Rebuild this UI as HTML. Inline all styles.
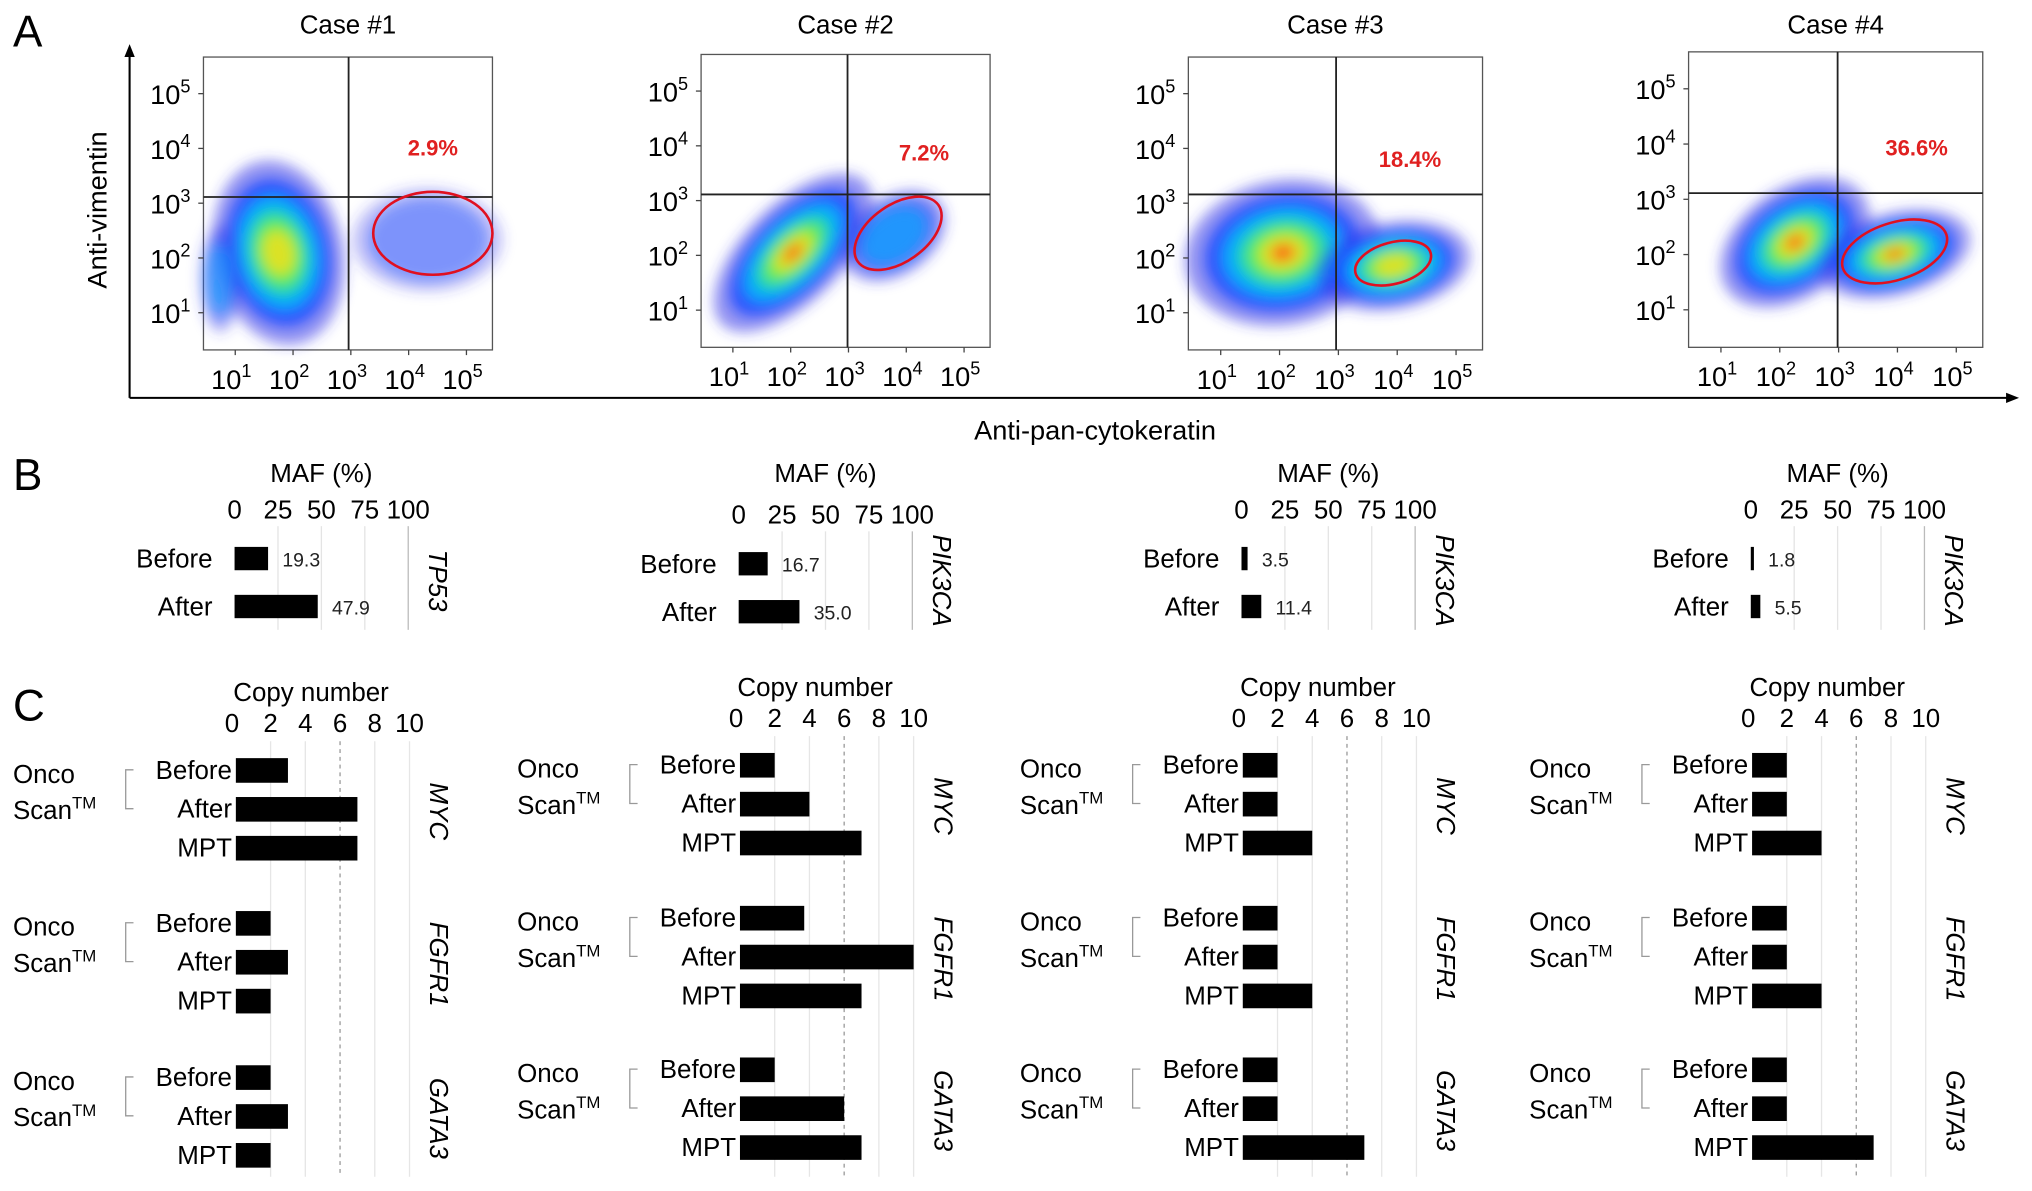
<!DOCTYPE html>
<html><head><meta charset="utf-8"><style>
html,body{margin:0;padding:0;background:#fff}
svg{display:block;font-family:"Liberation Sans",Arial,sans-serif}
</style></head><body>
<svg id="fig" width="2032" height="1191" viewBox="0 0 1568 919" xmlns="http://www.w3.org/2000/svg">
<defs>
<filter id="blur" x="-50%" y="-50%" width="200%" height="200%"><feGaussianBlur stdDeviation="5"/></filter>
</defs>
</svg>
<script>
// ---------- data ----------
const caseNames = ["Case #1","Case #2","Case #3","Case #4"];
const gatePercents = ["2.9%","7.2%","18.4%","36.6%"];
const logTickLabels = ["1","2","3","4","5"];
const mafTicks = [0,25,50,75,100];
const mafBefore = [19.3,16.7,3.5,1.8];
const mafAfter = [47.9,35.0,11.4,5.5];
const mafGenes = ["TP53","PIK3CA","PIK3CA","PIK3CA"];
const cnTicks = [0,2,4,6,8,10];
const cnGenes = ["MYC","FGFR1","GATA3"];
const cnRowLabels = ["Before","After","MPT"];
const cnCase1 = [[3,7,7],[2,3,2],[2,3,2]];
const cnCase2 = [[2,4,7],[3.7,10,7],[2,6,7]];
const cnCase3 = [[2,2,4],[2,2,4],[2,2,7]];
const cnCase4 = [[2,2,4],[2,2,4],[2,2,7]];
const cnAll = [cnCase1,cnCase2,cnCase3,cnCase4];

// ---------- layout ----------
const svg = document.getElementById('fig');
const NS = "http://www.w3.org/2000/svg";
function mk(tag, attrs, parent){const e=document.createElementNS(NS,tag);for(const k in attrs)e.setAttribute(k,attrs[k]);(parent||svg).appendChild(e);return e;}
function txt(s, attrs, parent){const e=mk('text',attrs,parent);e.textContent=s;return e;}

let t;
t=txt("A",{x:10,y:36,'font-size':34});


t=txt("B",{x:10,y:378,'font-size':34});


t=txt("C",{x:10,y:556,'font-size':34});



let ax=mk('path',{d:"M100,307 L100,42 M1552,307 L100,307",stroke:'#000','stroke-width':1.6,fill:'none'});


let ah=mk('path',{d:"M96,44 L100,34 L104,44 Z M1548,303 L1558,307 L1548,311 Z",fill:'#000'});


t=txt("Anti-vimentin",{x:0,y:0,'font-size':21,'text-anchor':'middle',transform:'translate(82,162) rotate(-90)'});


t=txt("Anti-pan-cytokeratin",{x:845,y:339,'font-size':21,'text-anchor':'middle'});



const boxes=[[157,44,380,270],[541,42,764,268],[917,44,1144,270],[1303,40,1530,268]];
const quadV=[269,654,1031,1418];
const quadH=[152,150,150,149];
const ellipses=[[334,180,46,32,0],[693,180,38,22,-35],[1075,203,30,16,-15],[1462,194,42,22,-18]];
const pctPos=[[334,120],[713,124],[1088,129],[1479,120]];
// cx,cy,rx,ry,rot,layers,outerOpacity
const clouds=[
 [[215,195,50,72,-12,6,0.55],[330,185,58,40,0,2,0.3],[170,215,16,42,0,3,0.35]],
 [[612,195,78,38,-45,7,0.55],[690,182,44,30,-35,3,0.5]],
 [[990,195,76,56,-10,7,0.55],[1075,205,60,34,-10,6,0.5]],
 [[1385,187,64,42,-35,7,0.55],[1462,196,60,32,-15,7,0.5]]
];
const layerCols=['#3a3ae8','#1a4cff','#00b4ff','#20e0a0','#70f040','#f0e020','#ff5010'];
const layerScale=[1,.8,.62,.48,.36,.24,.12];

boxes.forEach((b,i)=>{
  const g=mk('g',{});
  
  
  const tt=txt(caseNames[i],{x:(b[0]+b[2])/2,y:26,'font-size':20,'text-anchor':'middle'},g);
  
  
  const r=mk('rect',{x:b[0],y:b[1],width:b[2]-b[0],height:b[3]-b[1],fill:'#fff',stroke:'#555','stroke-width':1},g);
  
  
  const cg=mk('g',{filter:'url(#blur)'},g);
  clouds[i].forEach((c)=>{
    for(let k=0;k<c[5];k++){
      const e=mk('ellipse',{cx:c[0],cy:c[1],rx:c[2]*layerScale[k],ry:c[3]*layerScale[k],fill:layerCols[k],opacity:k===0?c[6]:(c[5]<=3?c[6]+0.1:0.85),transform:`rotate(${c[4]} ${c[0]} ${c[1]})`},cg);
      
      
    }
  });
  const q=mk('path',{d:`M${quadV[i]},${b[1]} L${quadV[i]},${b[3]} M${b[0]},${quadH[i]} L${b[2]},${quadH[i]}`,stroke:'#222','stroke-width':1.4},g);
  
  
  const el=ellipses[i];
  const ge=mk('ellipse',{cx:el[0],cy:el[1],rx:el[2],ry:el[3],fill:'none',stroke:'#e01020','stroke-width':2,transform:`rotate(${el[4]} ${el[0]} ${el[1]})`},g);
  
  
  const pt=txt(gatePercents[i],{x:pctPos[i][0],y:pctPos[i][1],'font-size':17,'font-weight':'bold',fill:'#e02020','text-anchor':'middle'},g);
  
  
  const w=b[2]-b[0], h=b[3]-b[1];
  logTickLabels.forEach((e,k)=>{
    const y=b[1]+h*(0.125+ (4-k)*0.187);
    const yl=mk('text',{x:b[0]-10,y:y+8,'font-size':21,'text-anchor':'end'},g);
    yl.textContent='10';
    const sp=mk('tspan',{dy:-9,'font-size':14},yl);sp.textContent=e;
    
    
    const ytk=mk('line',{x1:b[0]-4,x2:b[0],y1:y,y2:y,stroke:'#444'},g);
    
    
    const x=b[0]+w*(0.11+k*0.2);
    const xl=mk('text',{x:x-3,y:b[3]+30,'font-size':21,'text-anchor':'middle'},g);
    xl.textContent='10';
    const sp2=mk('tspan',{dy:-9,'font-size':14},xl);sp2.textContent=e;
    
    
    const xtk=mk('line',{x1:x,x2:x,y1:b[3],y2:b[3]+4,stroke:'#444'},g);
    
    
  });
});

// ---------- Panel B ----------
const offX=[0,389,777,1170];
const mafX0=181, mafW=134;
function mafScale(v){return mafW*v/100;}
offX.forEach((o,i)=>{
  const g=mk('g',{transform:`translate(${o},0)`});
  
  
  const yo = i===1?4:0;
  const ti=txt("MAF (%)",{x:mafX0+67,y:372,'font-size':20,'text-anchor':'middle'},g);
  
  
  mafTicks.forEach(v=>{
    const x=mafX0+mafScale(v);
    const tl=txt(String(v),{x:x,y:400+yo,'font-size':20,'text-anchor':'middle'},g);
    
    
    if(v>0){const gl=mk('line',{x1:x,x2:x,y1:406+yo,y2:486,stroke:v===100?'#bbb':'#e4e4e4','stroke-width':1},g);
    
    }
  });
  [[mafBefore[i],"Before",431],[mafAfter[i],"After",468]].forEach(r=>{
    const bar=mk('rect',{x:mafX0,y:r[2]-9+yo,width:mafScale(r[0]),height:18,fill:'#000'},g);
    
    
    const lb=txt(r[1],{x:mafX0-17,y:r[2]+7+yo,'font-size':20,'text-anchor':'end'},g);
    
    
    const vl=txt(r[0].toFixed(1),{x:mafX0+mafScale(r[0])+11,y:r[2]+6+yo,'font-size':15,fill:'#222'},g);
    
    
  });
  const gn=txt(mafGenes[i],{x:0,y:0,'font-size':20,'font-style':'italic','text-anchor':'middle',transform:`translate(${mafX0+150},448) rotate(90)`},g);
  
  
});

// ---------- Panel C ----------
const cnX0=182, cnUnit=13.4;
function cnScale(v){return v*cnUnit;}
const groupY=[[594,712,831],[590,708,825],[590,708,825],[590,708,825]];
offX.forEach((o,i)=>{
  const g=mk('g',{transform:`translate(${o},0)`});
  
  
  const yo=i===0?0:-4;
  const ti=txt("Copy number",{x:cnX0+58,y:541+yo,'font-size':20,'text-anchor':'middle'},g);
  
  
  cnTicks.forEach(v=>{
    const x=cnX0+cnScale(v)-(v===0?3:0);
    const tl=txt(String(v),{x:x,y:565+yo,'font-size':20,'text-anchor':'middle'},g);
    
    
    if(v>0){const gl=mk('line',{x1:cnX0+cnScale(v),x2:cnX0+cnScale(v),y1:572+yo,y2:908,stroke:v===6?'#999':'#e6e6e6','stroke-dasharray':v===6?'3,3':'none','stroke-width':1},g);
    
    }
  });
  cnGenes.forEach((gene,gi)=>{
    const y0=groupY[i][gi];
    cnAll[i][gi].forEach((v,ri)=>{
      const y=y0+ri*30;
      const bar=mk('rect',{x:cnX0,y:y-9,width:cnScale(v),height:19,fill:'#000'},g);
      
      
      const lb=txt(cnRowLabels[ri],{x:cnX0-3,y:y+7,'font-size':20,'text-anchor':'end'},g);
      
      
    });
    const o1=txt("Onco",{x:10,y:y0+10,'font-size':20},g);
    
    
    const o2=txt("Scan",{x:10,y:y0+38,'font-size':20},g);
    const sp=mk('tspan',{dy:-8,'font-size':13},o2);sp.textContent="TM";
    
    
    const br=mk('path',{d:`M103,${y0} L97,${y0} L97,${y0+30} L103,${y0+30}`,stroke:'#999',fill:'none','stroke-width':1},g);
    
    
    const gl=txt(gene,{x:0,y:0,'font-size':20,'font-style':'italic','text-anchor':'middle',transform:`translate(${cnX0+150},${y0+32}) rotate(90)`},g);
    
    
  });
});
</script>
</body></html>
